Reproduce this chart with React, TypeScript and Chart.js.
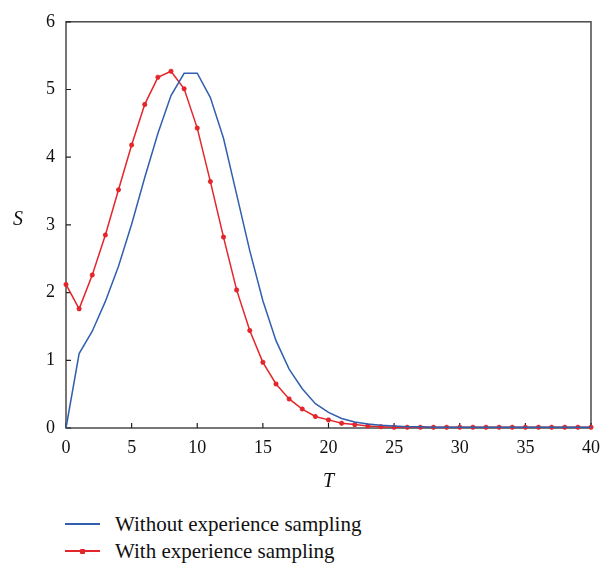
import React, { useEffect, useRef } from "react";
import { Chart, registerables } from "chart.js";

Chart.register(...registerables);

const T = [0, 1, 2, 3, 4, 5, 6, 7, 8, 9, 10, 11, 12, 13, 14, 15, 16, 17, 18, 19, 20, 21, 22, 23, 24, 25, 26, 27, 28, 29, 30, 31, 32, 33, 34, 35, 36, 37, 38, 39, 40];
const withoutSampling = [0, 1.10, 1.43, 1.87, 2.39, 3.01, 3.70, 4.35, 4.91, 5.24, 5.24, 4.88, 4.28, 3.45, 2.62, 1.88, 1.29, 0.87, 0.58, 0.36, 0.23, 0.14, 0.09, 0.06, 0.04, 0.03, 0.02, 0.02, 0.01, 0.01, 0.01, 0.01, 0.01, 0.01, 0.01, 0.01, 0.01, 0.01, 0.01, 0.01, 0.01];
const withSampling = [2.12, 1.76, 2.26, 2.85, 3.52, 4.18, 4.78, 5.18, 5.27, 5.01, 4.43, 3.64, 2.82, 2.04, 1.44, 0.97, 0.65, 0.43, 0.28, 0.17, 0.12, 0.07, 0.05, 0.03, 0.02, 0.01, 0.01, 0.01, 0.01, 0.01, 0.01, 0.01, 0.01, 0.01, 0.01, 0.01, 0.01, 0.01, 0.01, 0.01, 0.01];
const xTicks = [0, 5, 10, 15, 20, 25, 30, 35, 40];
const yTicks = [0, 1, 2, 3, 4, 5, 6];
const seriesNames = ["Without experience sampling", "With experience sampling"];
const xTitle = "T";
const yTitle = "S";

const BLUE = "#2f5fae";
const RED = "#e3262b";
const AXIS = "#4a4a4a";
const FONT = "'Liberation Serif', 'DejaVu Serif', serif";

const framePlugin = {
  id: "frame",
  beforeDatasetsDraw(chart: any) {
    const { ctx, chartArea: a, scales } = chart;
    ctx.save();
    ctx.strokeStyle = AXIS;
    ctx.lineWidth = 1.5;
    ctx.strokeRect(a.left, a.top, a.right - a.left, a.bottom - a.top);
    ctx.lineWidth = 1.2;
    ctx.strokeStyle = "#222";
    ctx.beginPath();
    xTicks.forEach((v) => {
      const x = scales.x.getPixelForValue(v);
      ctx.moveTo(x, a.bottom);
      ctx.lineTo(x, a.bottom - 5);
    });
    yTicks.forEach((v) => {
      const y = scales.y.getPixelForValue(v);
      ctx.moveTo(a.left, y);
      ctx.lineTo(a.left + 5, y);
    });
    ctx.stroke();
    ctx.restore();
  },
  afterDraw(chart: any) {
    const { ctx, chartArea: a } = chart;
    ctx.save();
    ctx.fillStyle = "#111";
    ctx.font = `italic 20px ${FONT}`;
    ctx.textAlign = "center";
    ctx.textBaseline = "middle";
    ctx.fillText(yTitle, 18, 220);
    ctx.fillText(xTitle, (a.left + a.right) / 2, 482);
    ctx.restore();
  },
};

export default function App() {
  const ref = useRef<HTMLCanvasElement>(null);
  useEffect(() => {
    document.body.style.margin = "0";
    const chart = new Chart(ref.current!, {
      type: "line",
      data: {
        datasets: [
          {
            label: seriesNames[0],
            data: T.map((t, i) => ({ x: t, y: withoutSampling[i] })),
            borderColor: BLUE,
            borderWidth: 1.5,
            pointRadius: 0,
            tension: 0,
            clip: false as any,
          },
          {
            label: seriesNames[1],
            data: T.map((t, i) => ({ x: t, y: withSampling[i] })),
            borderColor: RED,
            backgroundColor: RED,
            borderWidth: 1.5,
            pointStyle: "star",
            pointRadius: 2.5,
            pointBorderWidth: 1.5,
            pointBorderColor: RED,
            tension: 0,
            clip: false as any,
          },
        ],
      },
      options: {
        animation: false,
        responsive: false,
        maintainAspectRatio: false,
        layout: { padding: { top: 14, right: 19, left: 0, bottom: 0 } },
        plugins: { legend: { display: false }, tooltip: { enabled: false } },
        scales: {
          x: {
            type: "linear",
            min: 0,
            max: 40,
            grid: { display: false, drawTicks: false },
            border: { display: false },
            ticks: {
              stepSize: 5,
              padding: 9,
              color: "#111",
              font: { family: FONT, size: 18 },
              maxRotation: 0,
            },
            afterFit(scale: any) {
              scale.height = 64;
            },
          },
          y: {
            min: 0,
            max: 6,
            grid: { display: false, drawTicks: false },
            border: { display: false },
            ticks: {
              stepSize: 1,
              padding: 11,
              color: "#111",
              font: { family: FONT, size: 18 },
            },
            afterFit(scale: any) {
              scale.width = 66;
            },
          },
        },
      },
      plugins: [framePlugin],
    });
    return () => chart.destroy();
  }, []);

  const legendRow = (color: string, text: string, top: number, marker: boolean) => (
    <div style={{ position: "absolute", left: 65, top, height: 26, display: "flex", alignItems: "center" }}>
      <div style={{ position: "relative", width: 35, height: 2, background: color }}>
        {marker && (
          <div style={{ position: "absolute", left: 15, top: -1.5, width: 5, height: 5, background: color, borderRadius: 1 }} />
        )}
      </div>
      <span style={{ marginLeft: 15, fontFamily: FONT, fontSize: 21, color: "#111", whiteSpace: "nowrap" }}>{text}</span>
    </div>
  );

  return (
    <div style={{ position: "fixed", left: 0, top: 0, width: 610, height: 567, background: "#fff" }}>
      <canvas ref={ref} width={610} height={492} style={{ display: "block" }} />
      {legendRow(BLUE, seriesNames[0], 511, false)}
      {legendRow(RED, seriesNames[1], 538, true)}
    </div>
  );
}
